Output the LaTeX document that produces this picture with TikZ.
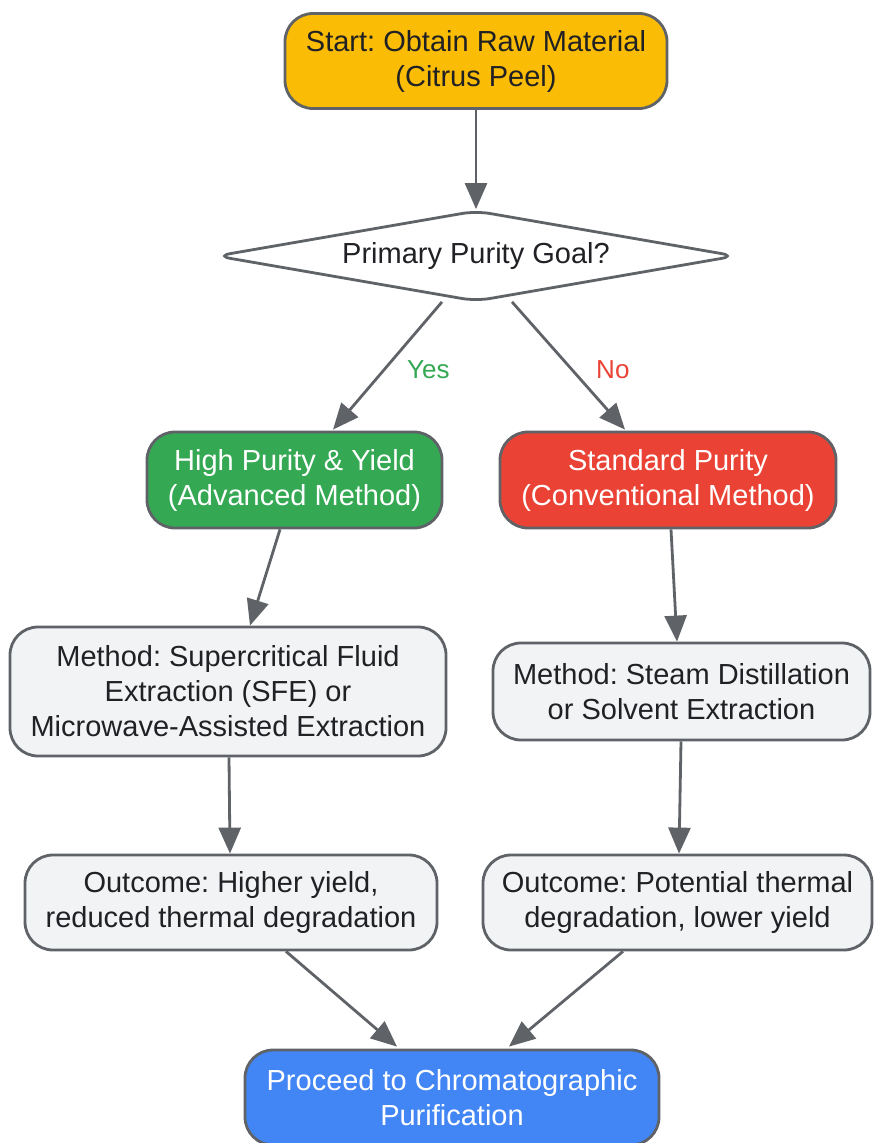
\documentclass[tikz,border=0pt]{standalone}
\usepackage{fontspec}
\setmainfont{Liberation Sans}
\usetikzlibrary{arrows.meta,shapes.geometric}
\definecolor{edgegray}{HTML}{5F6368}
\definecolor{textdark}{HTML}{202124}
\definecolor{boxgray}{HTML}{F1F3F4}
\definecolor{gyellow}{HTML}{FBBC05}
\definecolor{ggreen}{HTML}{34A853}
\definecolor{gred}{HTML}{EA4335}
\definecolor{gblue}{HTML}{4285F4}
\frenchspacing
\tikzset{
  box/.style={draw=edgegray, line width=2.8pt, rounded corners=28pt, align=center,
    inner sep=0pt, text=textdark, font=\fontsize{29}{35}\selectfont},
  stepbox/.style={box, fill=boxgray},
  goalbox/.style={diamond, draw=edgegray, line width=2.8pt, fill=white, rounded corners=14pt,
    inner sep=0pt, aspect=5.7, minimum width=520pt, minimum height=91pt,
    text=textdark, font=\fontsize{29}{35}\selectfont},
  flow/.style={draw=edgegray, line width=2.8pt, -{Triangle[length=26pt,width=22pt]}},
  answer/.style={font=\fontsize{26}{30}\selectfont}
}
\begin{document}
\begin{tikzpicture}[x=1pt,y=-1pt]
\useasboundingbox (0,0) rectangle (873,1143);
\node[box, fill=gyellow, minimum width=382pt, minimum height=95pt] (start) at (476,61) {Start: Obtain Raw Material\\(Citrus Peel)};
\node[goalbox] (goal) at (476,256) {Primary Purity Goal?};
\node[box, fill=ggreen, text=white, minimum width=295pt, minimum height=96pt] (high) at (294.5,480) {High Purity \& Yield\\(Advanced Method)};
\node[box, fill=gred, text=white, minimum width=336pt, minimum height=96pt] (std) at (668,480) {Standard Purity\\(Conventional Method)};
\node[stepbox, minimum width=436pt, minimum height=129pt] (sfe) at (228,691.5) {Method: Supercritical Fluid\\Extraction (SFE) or\\Microwave-Assisted Extraction};
\node[stepbox, minimum width=377pt, minimum height=97pt] (steam) at (681.5,691.5) {Method: Steam Distillation\\or Solvent Extraction};
\node[stepbox, minimum width=412pt, minimum height=95pt] (outhigh) at (231,902.5) {Outcome: Higher yield,\\reduced thermal degradation};
\node[stepbox, minimum width=389pt, minimum height=95pt] (outstd) at (677.5,902.5) {Outcome: Potential thermal\\degradation, lower yield};
\node[box, fill=gblue, text=white, minimum width=414pt, minimum height=95pt] (chrom) at (452,1097.5) {Proceed to Chromatographic\\Purification};

\draw[flow] (start.south) -- (goal.north);
\draw[flow] ([xshift=-34pt,yshift=1pt]goal.south) -- node[answer, text=ggreen, right=15pt, yshift=-4pt] {Yes} ([xshift=38.5pt,yshift=1pt]high.north);
\draw[flow] ([xshift=36pt,yshift=1pt]goal.south) -- node[answer, text=gred, right=23pt, yshift=-4pt] {No} ([xshift=-43pt,yshift=1pt]std.north);
\draw[flow] ([xshift=-14.5pt]high.south) -- ([xshift=22pt]sfe.north);
\draw[flow] ([xshift=3pt]std.south) -- ([xshift=-4.5pt]steam.north);
\draw[flow] ([xshift=1pt]sfe.south) -- ([xshift=-1pt]outhigh.north);
\draw[flow] ([xshift=-0.5pt]steam.south) -- ([xshift=1.5pt]outstd.north);
\draw[flow] ([xshift=55pt]outhigh.south) -- ([xshift=-55pt,yshift=2pt]chrom.north);
\draw[flow] ([xshift=-54.5pt]outstd.south) -- ([xshift=57pt,yshift=2pt]chrom.north);
\end{tikzpicture}
\end{document}
